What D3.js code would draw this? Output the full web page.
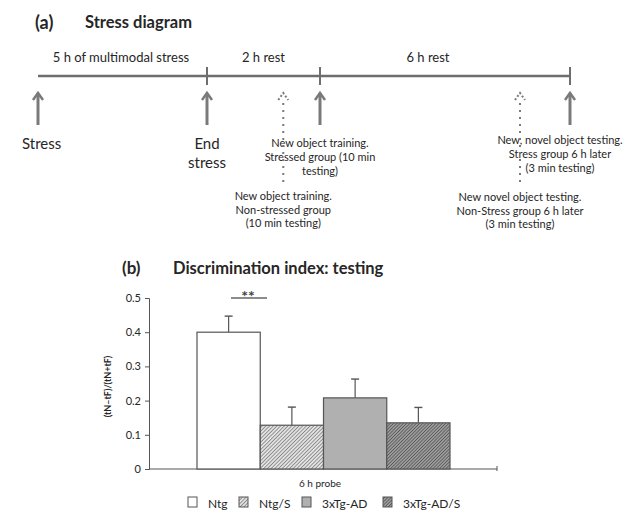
<!DOCTYPE html>
<html>
<head>
<meta charset="utf-8">
<script src="https://cdn.jsdelivr.net/npm/d3@7"></script>
<style>
  body { margin: 0; background: #fff; }
  svg { font-family: Lato, "Open Sans", sans-serif; }
</style>
</head>
<body>
<div id="chart"></div>
<script>
// panel (a): timeline, hours
const phaseBounds = [0, 5, 7, 13];
const phaseLabels = ['5 h of multimodal stress', '2 h rest', '6 h rest'];
const solidEvents = [
  { t: 0, lines: ['Stress'], big: true },
  { t: 5, lines: ['End', 'stress'], big: true },
  { t: 7, lines: ['New object training.', 'Stressed group (10 min', 'testing)'] },
  { t: 13, lines: ['New, novel object testing.', 'Stress group 6 h later', '(3 min testing)'] }
];
const dottedEvents = [
  { t: 6.35, lines: ['New object training.', 'Non-stressed group', '(10 min testing)'] },
  { t: 11.8, lines: ['New novel object testing.', 'Non-Stress group 6 h later', '(3 min testing)'] }
];

// panel (b): discrimination index
const groups = ['Ntg', 'Ntg/S', '3xTg-AD', '3xTg-AD/S'];
const means = [0.40, 0.128, 0.208, 0.135];
const errors = [0.047, 0.053, 0.055, 0.045];
const yTicks = [0, 0.1, 0.2, 0.3, 0.4, 0.5];
const xLabel = '6 h probe';

const W = 632, H = 512;
const ink = '#262626';
const lineGrey = '#6e6e6e';

const svg = d3.select('#chart').append('svg')
  .attr('width', W).attr('height', H);

const defs = svg.append('defs');
const hatch = (id, bg, fg, gap, sw) => {
  const p = defs.append('pattern')
    .attr('id', id)
    .attr('patternUnits', 'userSpaceOnUse')
    .attr('width', gap).attr('height', gap)
    .attr('patternTransform', 'rotate(45)');
  p.append('rect').attr('width', gap).attr('height', gap).attr('fill', bg);
  p.append('line')
    .attr('x1', 0).attr('y1', 0).attr('x2', 0).attr('y2', gap)
    .attr('stroke', fg).attr('stroke-width', sw);
};
hatch('hatchLight', '#e2e2e2', '#555', 2.6, 1.1);
hatch('hatchDark', '#9c9c9c', '#3c3c3c', 2.3, 1.1);
const fills = ['#ffffff', 'url(#hatchLight)', '#b0b0b0', 'url(#hatchDark)'];

// ---------- (a) stress diagram ----------
svg.append('text').attr('x', 35).attr('y', 29)
  .attr('font-size', 18).attr('font-weight', 'bold').attr('fill', ink).text('(a)');
svg.append('text').attr('x', 85).attr('y', 28)
  .attr('font-size', 16.5).attr('font-weight', 'bold').attr('fill', ink).text('Stress diagram');

const tx = d3.scaleLinear().domain(phaseBounds).range([38, 207, 320, 570]);
const lineY = 76;

const tl = svg.append('g');
tl.append('line')
  .attr('x1', tx(0)).attr('x2', tx(13))
  .attr('y1', lineY).attr('y2', lineY)
  .attr('stroke', lineGrey).attr('stroke-width', 2.5);
tl.selectAll('.tick')
  .data(phaseBounds.slice(1))
  .join('line')
  .attr('x1', d => tx(d)).attr('x2', d => tx(d))
  .attr('y1', lineY - 9).attr('y2', lineY + 9)
  .attr('stroke', lineGrey).attr('stroke-width', 2);
tl.selectAll('.phase')
  .data(phaseLabels)
  .join('text')
  .attr('x', (d, i) => i === 0 ? 121 : (tx(phaseBounds[i]) + tx(phaseBounds[i + 1])) / 2 - (i === 2 ? 17 : 0))
  .attr('y', 62)
  .attr('text-anchor', 'middle')
  .attr('font-size', 13)
  .attr('fill', ink)
  .text(d => d);

const arrowTop = 93;
const arrow = (g, x, y2, dotted) => {
  g.append('path')
    .attr('d', `M${x - 5},${arrowTop + 7}L${x},${arrowTop}L${x + 5},${arrowTop + 7}`)
    .attr('fill', 'none').attr('stroke', '#7a7a7a').attr('stroke-width', dotted ? 2 : 2.5)
    .attr('stroke-dasharray', dotted ? '2,2' : null);
  g.append('line')
    .attr('x1', x).attr('x2', x)
    .attr('y1', dotted ? arrowTop + 10 : arrowTop).attr('y2', y2)
    .attr('stroke', '#7a7a7a').attr('stroke-width', dotted ? 2 : 3)
    .attr('stroke-dasharray', dotted ? '2,5' : null);
};

const ev = svg.append('g');
solidEvents.forEach(e => {
  const x = tx(e.t);
  arrow(ev, x, 125, false);
  const anchorX = e.t === 0 ? 22 : (e.t === 13 ? 560 : x);
  const t = ev.append('text')
    .attr('text-anchor', e.t === 0 ? 'start' : 'middle')
    .attr('font-size', e.big ? 15 : 11)
    .attr('fill', ink);
  e.lines.forEach((l, i) => {
    t.append('tspan')
      .attr('x', anchorX)
      .attr('y', (e.big ? 149 : (e.t === 13 ? 144 : 147)) + i * (e.big ? 19 : 14))
      .text(l);
  });
});
dottedEvents.forEach(e => {
  const x = tx(e.t);
  arrow(ev, x, 186, true);
  const t = ev.append('text')
    .attr('text-anchor', 'middle')
    .attr('font-size', 11)
    .attr('fill', ink);
  e.lines.forEach((l, i) => {
    t.append('tspan')
      .attr('x', x)
      .attr('y', (e.t > 10 ? 201 : 200) + i * 13.5)
      .text(l);
  });
});

// ---------- (b) bar chart ----------
svg.append('text').attr('x', 122).attr('y', 274)
  .attr('font-size', 17).attr('font-weight', 'bold').attr('fill', ink).text('(b)');
svg.append('text').attr('x', 173).attr('y', 274)
  .attr('font-size', 16.5).attr('font-weight', 'bold').attr('fill', ink).text('Discrimination index: testing');

const y = d3.scaleLinear().domain([0, 0.5]).range([469, 298]);
const x = d3.scaleBand().domain(groups).range([197, 450]).padding(0);

const plot = svg.append('g');

const yAxis = plot.append('g')
  .attr('transform', 'translate(149,0)')
  .call(d3.axisLeft(y).tickValues(yTicks).tickFormat(d => d === 0 ? '0' : d3.format('.1f')(d)).tickSize(4).tickPadding(4));
yAxis.select('.domain').attr('stroke', '#555');
yAxis.selectAll('.tick line').attr('stroke', '#555');
yAxis.selectAll('text').attr('font-size', 11).attr('fill', ink).attr('font-family', 'Lato, sans-serif');

plot.append('line')
  .attr('x1', 149).attr('x2', 497)
  .attr('y1', y(0)).attr('y2', y(0))
  .attr('stroke', '#555').attr('stroke-width', 1);
plot.append('line')
  .attr('x1', 497).attr('x2', 497)
  .attr('y1', y(0) - 3).attr('y2', y(0) + 2)
  .attr('stroke', '#555');

plot.append('text')
  .attr('transform', `translate(111,${(y(0) + y(0.5)) / 2 + 3}) rotate(-90)`)
  .attr('text-anchor', 'middle')
  .attr('font-size', 9).attr('font-weight', 'bold').attr('fill', ink)
  .text('(tN\u2013tF)/(tN+tF)');

// error bars behind bars
plot.selectAll('.err')
  .data(groups)
  .join('g')
  .each(function (g, i) {
    const cx = x(g) + x.bandwidth() / 2;
    const sel = d3.select(this);
    sel.append('line')
      .attr('x1', cx).attr('x2', cx)
      .attr('y1', y(means[i])).attr('y2', y(means[i] + errors[i]))
      .attr('stroke', '#555').attr('stroke-width', 1.2);
    sel.append('line')
      .attr('x1', cx - 4).attr('x2', cx + 4)
      .attr('y1', y(means[i] + errors[i])).attr('y2', y(means[i] + errors[i]))
      .attr('stroke', '#555').attr('stroke-width', 1.4);
  });

plot.selectAll('.bar')
  .data(groups)
  .join('rect')
  .attr('x', d => x(d))
  .attr('y', (d, i) => y(means[i]))
  .attr('width', x.bandwidth())
  .attr('height', (d, i) => y(0) - y(means[i]))
  .attr('fill', (d, i) => fills[i])
  .attr('stroke', '#555')
  .attr('stroke-width', 1.2);

// significance
plot.append('line')
  .attr('x1', 231).attr('x2', 267)
  .attr('y1', 298).attr('y2', 298)
  .attr('stroke', '#666').attr('stroke-width', 1.3);
plot.append('text')
  .attr('x', 248).attr('y', 302)
  .attr('text-anchor', 'middle')
  .attr('font-size', 16).attr('font-weight', 'bold').attr('fill', '#444')
  .text('**');

plot.append('text')
  .attr('x', 320).attr('y', 487)
  .attr('text-anchor', 'middle')
  .attr('font-size', 10).attr('fill', ink)
  .text(xLabel);

// legend
const legendX = [188, 239, 302, 383];
const leg = svg.append('g');
groups.forEach((g, i) => {
  leg.append('rect')
    .attr('x', legendX[i]).attr('y', 497)
    .attr('width', 9).attr('height', 10)
    .attr('fill', fills[i]).attr('stroke', '#555').attr('stroke-width', 1);
  leg.append('text')
    .attr('x', legendX[i] + 20).attr('y', 508)
    .attr('font-size', 12).attr('fill', ink)
    .text(g);
});
</script>
</body>
</html>
